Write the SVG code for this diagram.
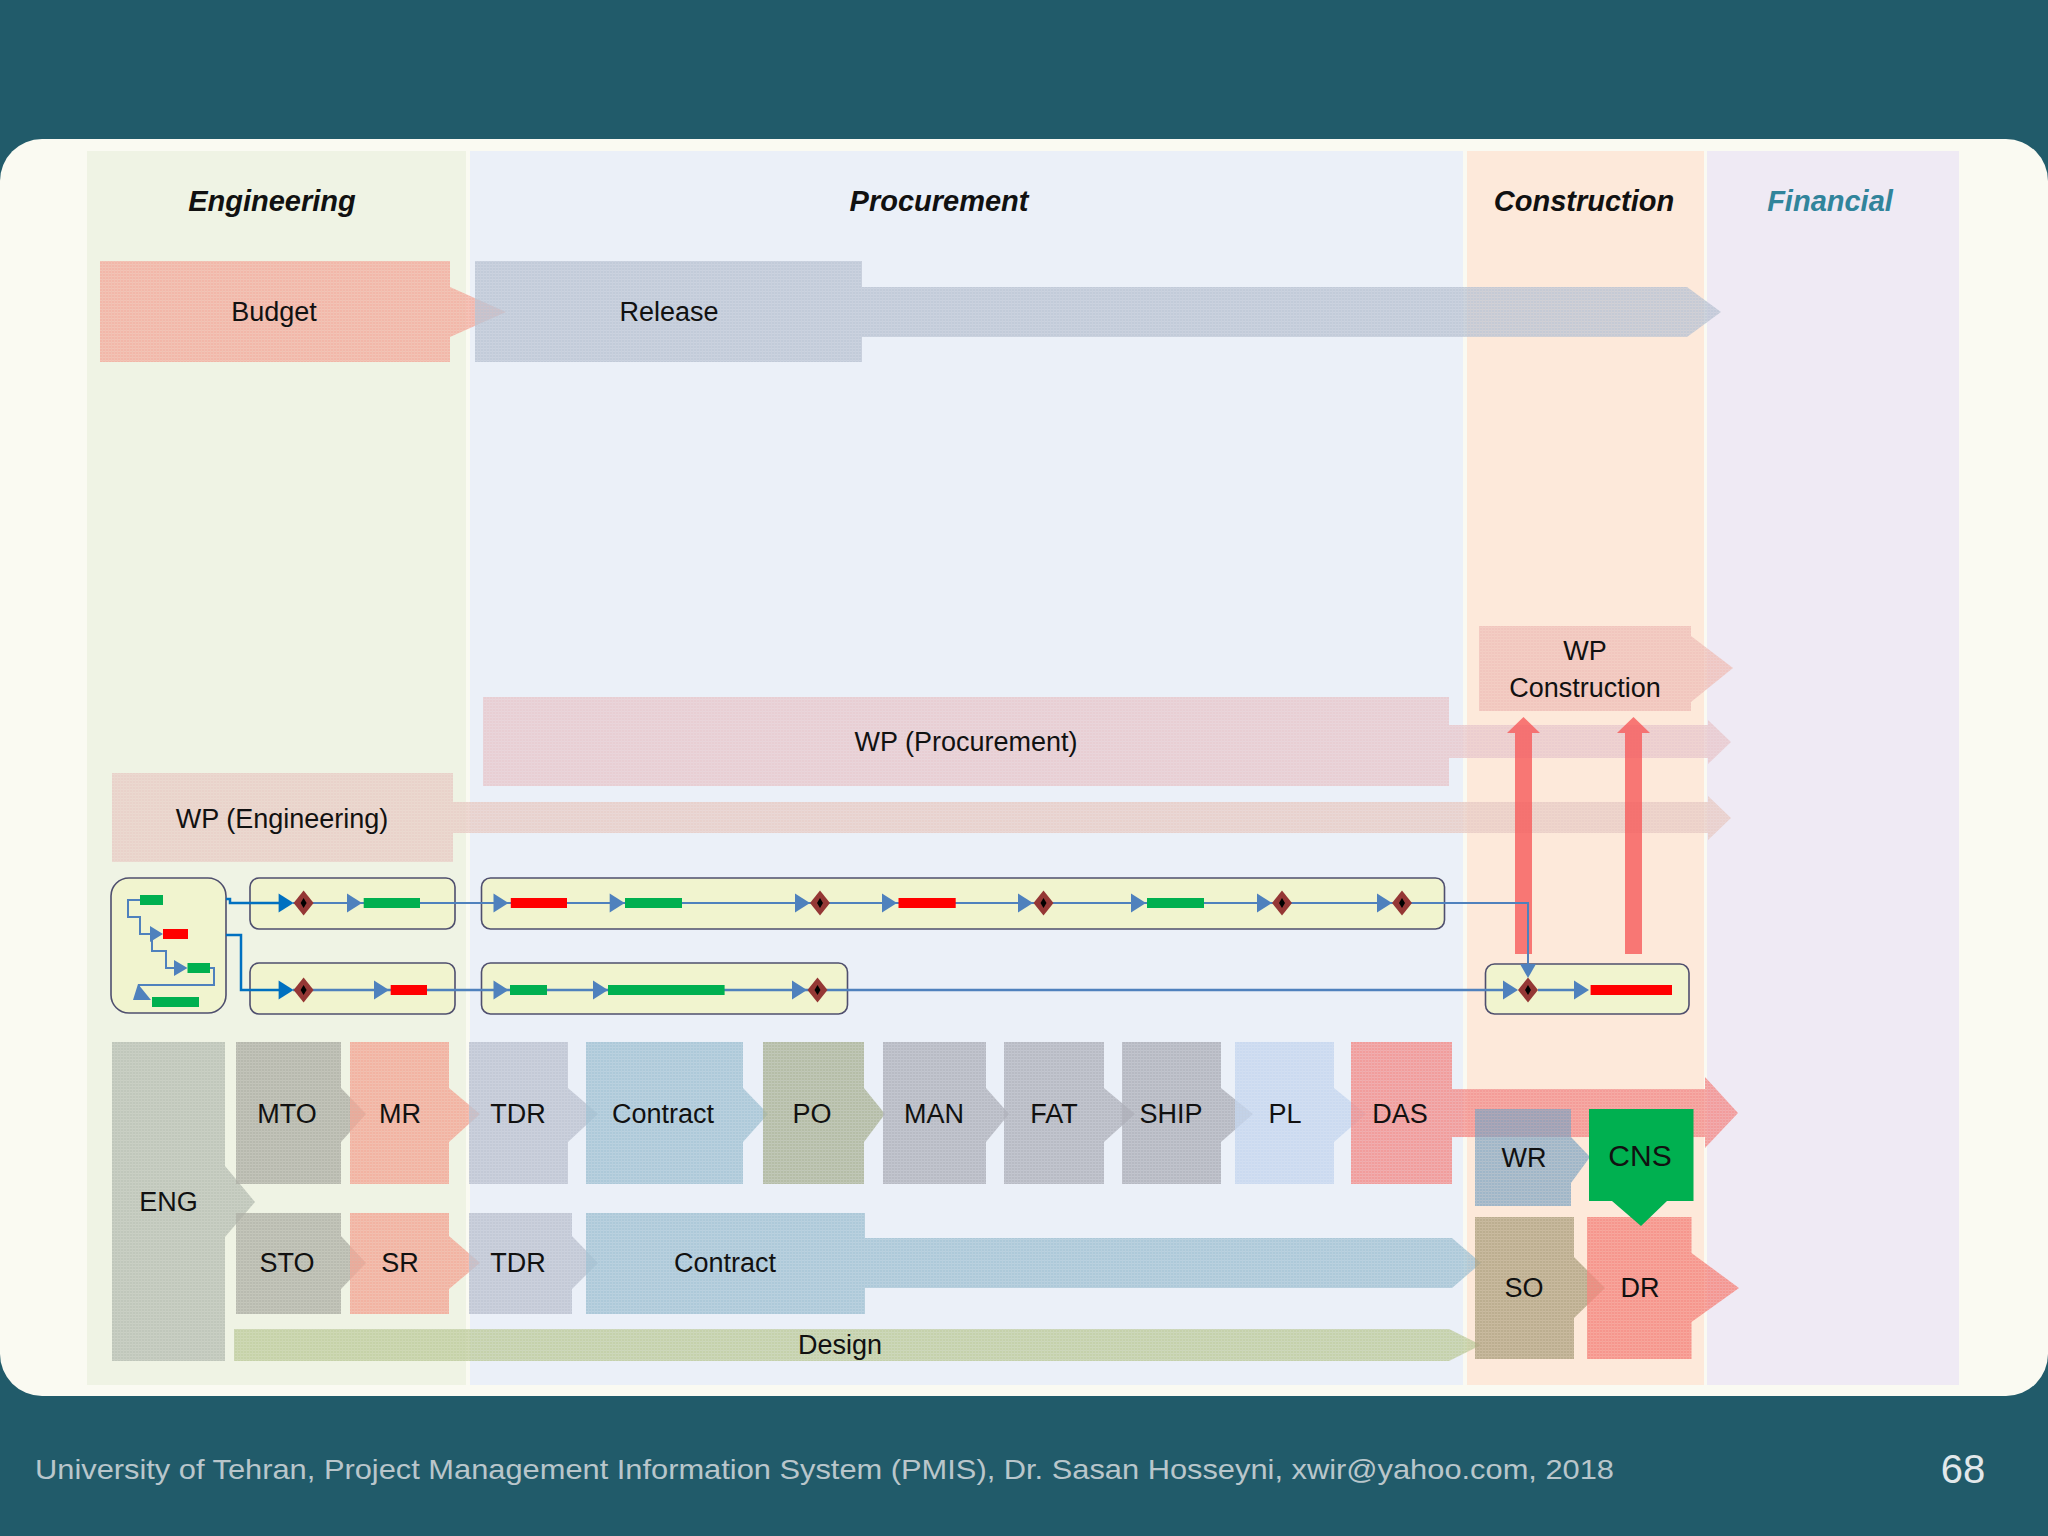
<svg xmlns="http://www.w3.org/2000/svg" xmlns:xlink="http://www.w3.org/1999/xlink" width="2048" height="1536" viewBox="0 0 2048 1536">
<style>
.lbl{font-family:"Liberation Sans",Arial,sans-serif;font-size:27px;fill:#111;text-anchor:middle;dominant-baseline:central}
.hdr{font-family:"Liberation Sans",Arial,sans-serif;font-size:29px;font-weight:bold;font-style:italic;fill:#111;text-anchor:middle}
.sh{fill-opacity:0.85;mask:url(#hm)}
.box{fill:#f1f4cf;stroke:#4f4f6e;stroke-width:1.6}
.g{fill:#00b050}
.r{fill:#ff0000}
</style>
<defs>
<pattern id="grid" width="3" height="3" patternUnits="userSpaceOnUse">
<rect width="3" height="3" fill="#fff"/>
<rect width="3" height="1" fill="#c8c8c8"/>
<rect width="1" height="3" fill="#d8d8d8"/>
</pattern>
<mask id="hm" maskUnits="userSpaceOnUse" x="0" y="0" width="2048" height="1536">
<rect width="2048" height="1536" fill="url(#grid)"/>
</mask>
<path id="ar" d="M0,0 L-15,-9.5 L-15,9.5 Z" fill="#4f81bd"/>
<path id="ard" d="M0,0 L-15,-9.5 L-15,9.5 Z" fill="#0070c0"/>
<g id="ms"><path d="M0,-12.5 L10,0 L0,12.5 L-10,0 Z" fill="#953735"/><path d="M0,-5 L3,0 L0,5 L-3,0 Z" fill="#000"/></g>
</defs>
<rect x="0" y="0" width="2048" height="1536" fill="#215b6a"/>
<rect x="0" y="139" width="2048" height="1257" rx="42" fill="#fafaf2"/>

<g id="lanes">
<rect x="87" y="151" width="379" height="1234" fill="#eff3e4"/>
<rect x="470" y="151" width="993" height="1234" fill="#ebf0f8"/>
<rect x="1467" y="151" width="237" height="1234" fill="#fde9da"/>
<rect x="1707" y="151" width="252" height="1234" fill="#efeaf4"/>
<text class="hdr" x="272" y="211">Engineering</text>
<text class="hdr" x="939" y="211">Procurement</text>
<text class="hdr" x="1584" y="211">Construction</text>
<text class="hdr" x="1830" y="211" style="fill:#31849b">Financial</text>
</g>

<g id="budget"><path class="sh" d="M100,261 H450 V287 L506,312 L450,337 V362 H100 Z" fill="#f2ac9f"/><text class="lbl" x="274" y="312">Budget</text></g>
<g id="release"><path class="sh" d="M475,261 H862 V287 H1687 L1721,312 L1687,337 H862 V362 H475 Z" fill="#bbc4d3"/><text class="lbl" x="669" y="312">Release</text></g>

<g id="wp-construction"><path class="sh" d="M1479,626 H1691 V636 L1733,668 L1691,702 V711 H1479 Z" fill="#efc0b8"/><text class="lbl" x="1585" y="651">WP</text><text class="lbl" x="1585" y="688">Construction</text></g>
<g id="wp-procurement"><path class="sh" d="M483,697 H1449 V725 H1708 V720 L1731,742 L1708,764 V758 H1449 V786 H483 Z" fill="#e7c8cd"/><text class="lbl" x="966" y="742">WP (Procurement)</text></g>
<g id="wp-engineering"><path class="sh" d="M112,773 H453 V802 H1708 V796 L1731,818 L1708,840 V833 H453 V862 H112 Z" fill="#e7cbc5"/><text class="lbl" x="282" y="819">WP (Engineering)</text></g>

<g id="red-arrows" fill="#f65a5a" fill-opacity="0.8">
<path d="M1515,954 V733 H1507 L1523.5,717 L1540,733 H1532 V954 Z"/>
<path d="M1625,954 V733 H1617 L1633.5,717 L1650,733 H1642 V954 Z"/>
</g>

<g id="schedule"><rect class="box" x="111" y="878" width="115" height="135" rx="18"/>
<rect class="g" x="140" y="895" width="23" height="10"/>
<rect class="r" x="163" y="929" width="25" height="10"/>
<rect class="g" x="187.5" y="963" width="22.5" height="10"/>
<rect class="g" x="152" y="997" width="47" height="10"/>
</g>
<g id="pkg-a1"><rect class="box" x="250" y="878" width="205" height="51" rx="9"/></g>
<g id="pkg-b1"><rect class="box" x="481.5" y="878" width="963" height="51" rx="9"/></g>
<g id="pkg-a2"><rect class="box" x="250" y="963" width="205" height="51" rx="9"/></g>
<g id="pkg-b2"><rect class="box" x="481.5" y="963" width="366" height="51" rx="9"/></g>
<g id="pkg-c"><rect class="box" x="1485.5" y="964" width="203.5" height="50" rx="9"/></g>

<g id="connectors" fill="none" stroke="#4f81bd" stroke-width="2.5">
<path d="M226,899 H230 V903 H280" stroke="#0070c0"/>
<path d="M226,935 H241 V990 H280" stroke="#0070c0"/>
<path d="M293,903 H1528 V967" stroke-width="2"/>
<path d="M293,990 H1506"/>
<path d="M1538,990 H1576"/>
<path d="M140,900 H128 V917 H140 V934 H150" stroke-width="2"/>
<path d="M152,940 V951 H166 V968 H174" stroke-width="2"/>
<path d="M210,968 H214 V985 H139 V990" stroke-width="2"/>
</g>

<g id="arrowheads">
<use href="#ard" x="293.6" y="903"/>
<use href="#ar" x="362" y="903"/>
<use href="#ar" x="508.5" y="903"/>
<use href="#ar" x="624.7" y="903"/>
<use href="#ar" x="810" y="903"/>
<use href="#ar" x="897" y="903"/>
<use href="#ar" x="1033" y="903"/>
<use href="#ar" x="1146" y="903"/>
<use href="#ar" x="1272" y="903"/>
<use href="#ar" x="1392" y="903"/>
<use href="#ard" x="293.6" y="990"/>
<use href="#ar" x="389" y="990"/>
<use href="#ar" x="508.5" y="990"/>
<use href="#ar" x="608" y="990"/>
<use href="#ar" x="807" y="990"/>
<use href="#ar" x="1518" y="990"/>
<use href="#ar" x="1589" y="990"/>
<path d="M1528,978 L1520,964 L1536,964 Z" fill="#4f81bd"/>
<path d="M163,934 L150,926 L150,942 Z" fill="#4f81bd"/>
<path d="M187.5,968 L174,960 L174,976 Z" fill="#4f81bd"/>
<path d="M138,984 L133,1000 L151,1000 Z" fill="#4f81bd"/>
</g>

<g id="tasks">
<rect class="g" x="363.7" y="898" width="56.3" height="10"/>
<rect class="r" x="510.8" y="898" width="56.2" height="10"/>
<rect class="g" x="625" y="898" width="57" height="10"/>
<rect class="r" x="898.5" y="898" width="57.2" height="10"/>
<rect class="g" x="1147" y="898" width="57" height="10"/>
<rect class="r" x="390.7" y="985" width="36.3" height="10"/>
<rect class="g" x="510" y="985" width="37" height="10"/>
<rect class="g" x="608" y="985" width="116.6" height="10"/>
<rect class="r" x="1590.6" y="985" width="81.4" height="10"/>
</g>
<g id="milestones">
<use href="#ms" x="303.6" y="903"/>
<use href="#ms" x="820" y="903"/>
<use href="#ms" x="1043.5" y="903"/>
<use href="#ms" x="1282" y="903"/>
<use href="#ms" x="1402" y="903"/>
<use href="#ms" x="303.6" y="990"/>
<use href="#ms" x="817.5" y="990"/>
<use href="#ms" x="1528" y="990"/>
</g>

<g id="eng"><path class="sh" d="M112,1042 H225 V1166 L255,1202 L225,1237 V1361 H112 Z" fill="#b7beb4"/><text class="lbl" x="168.5" y="1202">ENG</text></g>
<g id="mto"><path class="sh" d="M236,1042 H341 V1088 L366,1114 L341,1142 V1184 H236 Z" fill="#adaea5"/><text class="lbl" x="287" y="1114">MTO</text></g>
<g id="mr"><path class="sh" d="M350,1042 H449 V1088 L480,1114 L449,1142 V1184 H350 Z" fill="#f2a797"/><text class="lbl" x="400" y="1114">MR</text></g>
<g id="tdr1"><path class="sh" d="M469,1042 H568 V1088 L598,1114 L568,1142 V1184 H469 Z" fill="#bcc2d0"/><text class="lbl" x="518" y="1114">TDR</text></g>
<g id="contract1"><path class="sh" d="M586,1042 H743 V1088 L768,1114 L743,1142 V1184 H586 Z" fill="#a2c2d4"/><text class="lbl" x="663" y="1114">Contract</text></g>
<g id="po"><path class="sh" d="M763,1042 H864 V1088 L885,1114 L864,1142 V1184 H763 Z" fill="#acb499"/><text class="lbl" x="812" y="1114">PO</text></g>
<g id="man"><path class="sh" d="M883,1042 H986 V1088 L1009,1114 L986,1142 V1184 H883 Z" fill="#afb1bb"/><text class="lbl" x="934" y="1114">MAN</text></g>
<g id="fat"><path class="sh" d="M1004,1042 H1104 V1088 L1135,1114 L1104,1142 V1184 H1004 Z" fill="#afb1bb"/><text class="lbl" x="1054" y="1114">FAT</text></g>
<g id="ship"><path class="sh" d="M1122,1042 H1221 V1088 L1253,1114 L1221,1142 V1184 H1122 Z" fill="#adafb9"/><text class="lbl" x="1171" y="1114">SHIP</text></g>
<g id="pl"><path class="sh" d="M1235,1042 H1334 V1088 L1366,1114 L1334,1142 V1184 H1235 Z" fill="#c6d6ee"/><text class="lbl" x="1285" y="1114">PL</text></g>
<g id="das"><path class="sh" d="M1351,1042 H1452 V1089 H1705 V1077 L1738,1113 L1705,1148 V1137 H1452 V1184 H1351 Z" fill="#f28e8c"/><text class="lbl" x="1400" y="1114">DAS</text></g>

<g id="sto"><path class="sh" d="M236,1213 H341 V1236 L366,1263 L341,1289 V1314 H236 Z" fill="#afb0a7"/><text class="lbl" x="287" y="1263">STO</text></g>
<g id="sr"><path class="sh" d="M350,1213 H449 V1236 L480,1263 L449,1289 V1314 H350 Z" fill="#f2a797"/><text class="lbl" x="400" y="1263">SR</text></g>
<g id="tdr2"><path class="sh" d="M469,1213 H572 V1236 L598,1263 L572,1289 V1314 H469 Z" fill="#bcc2d0"/><text class="lbl" x="518" y="1263">TDR</text></g>
<g id="contract2"><path class="sh" d="M586,1213 H865 V1238 H1452 L1481,1263 L1452,1288 H865 V1314 H586 Z" fill="#a2c2d4"/><text class="lbl" x="725" y="1263">Contract</text></g>
<g id="design"><path class="sh" d="M234,1329 H1449 L1481,1345 L1449,1361 H234 Z" fill="#becb9d"/><text class="lbl" x="840" y="1345">Design</text></g>

<g id="wr"><path class="sh" d="M1475,1109 H1571 V1137 L1590,1157 L1571,1183 V1206 H1475 Z" fill="#7fa4c2" style="fill-opacity:0.75"/><text class="lbl" x="1524" y="1158">WR</text></g>
<g id="so"><path class="sh" d="M1475,1217 H1574 V1257 L1605,1288 L1574,1318 V1359 H1475 Z" fill="#b0a382"/><text class="lbl" x="1524" y="1288">SO</text></g>
<g id="dr"><path class="sh" d="M1587,1217 H1691.5 V1253 L1739,1288 L1691.5,1322 V1359 H1587 Z" fill="#f5877f"/><text class="lbl" x="1640" y="1288">DR</text></g>
<g id="cns"><path d="M1589,1109 H1693.5 V1201 H1667 L1641,1226 L1612,1201 H1589 Z" fill="#00b050"/><text class="lbl" x="1640" y="1155" style="font-size:30px">CNS</text></g>

<g id="footer">
<text x="35" y="1479" font-family="Liberation Sans, Arial, sans-serif" font-size="28" fill="#b9c6cb" textLength="1579" lengthAdjust="spacingAndGlyphs">University of Tehran, Project Management Information System (PMIS), Dr. Sasan Hosseyni, xwir@yahoo.com, 2018</text>
<text x="1963" y="1483" font-family="Liberation Sans, Arial, sans-serif" font-size="40" fill="#e2e8ea" text-anchor="middle">68</text>
</g>
</svg>
